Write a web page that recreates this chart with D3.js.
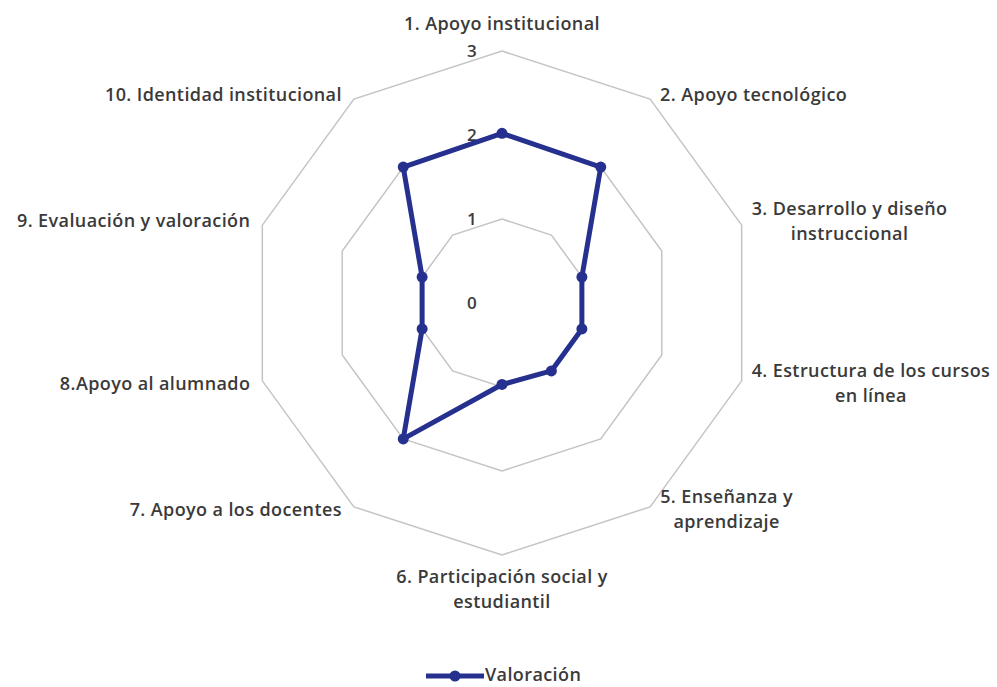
<!DOCTYPE html>
<html>
<head>
<meta charset="utf-8">
<script src="https://cdn.jsdelivr.net/npm/d3@7"></script>
<style>
    body { margin: 0; background: #fff; }
    svg text { font-family: "Open Sans", "Noto Sans", sans-serif; fill: #3a3a3a; font-weight: 600; letter-spacing: 0.4px; }
</style>
</head>
<body>
<svg id="chart" width="997" height="687"></svg>
<script>
const categories = [
    '1. Apoyo institucional',
    '2. Apoyo tecnológico',
    '3. Desarrollo y diseño\ninstruccional',
    '4. Estructura de los cursos\nen línea',
    '5. Enseñanza y\naprendizaje',
    '6. Participación social y\nestudiantil',
    '7. Apoyo a los docentes',
    '8.Apoyo al alumnado',
    '9. Evaluación y valoración',
    '10. Identidad institucional',
];
const valoracion = [2.02, 2, 1, 1, 1, 0.97, 2, 1, 1, 2];
const levels = [0, 1, 2, 3];
const seriesName = 'Valoración';

const svg = d3.select('#chart');
const cx = 502;
const cy = 303;
const color = '#25308f';

const r = d3.scaleLinear().domain([0, 3]).range([0, 252]);
const angle = d3.scaleLinear().domain([0, categories.length]).range([0, 2 * Math.PI]);

function pt(i, v) {
    const a = angle(i);
    return [cx + r(v) * Math.sin(a), cy - r(v) * Math.cos(a)];
}

// grid rings
const ring = d3.line();
levels.filter((l) => l > 0).forEach((l) => {
    svg.append('path')
        .attr('d', ring(categories.map((c, i) => pt(i, l))) + 'Z')
        .attr('fill', 'none')
        .attr('stroke', '#c4c4c4')
        .attr('stroke-width', 1.5);
});

// tick labels
svg.selectAll('text.tick')
    .data(levels)
    .enter()
    .append('text')
    .attr('class', 'tick')
    .attr('x', cx - 30)
    .attr('y', (d) => cy - r(d))
    .attr('dy', '0.35em')
    .attr('text-anchor', 'middle')
    .style('font-size', '17px')
    .text((d) => d);

// series
const pts = valoracion.map((v, i) => pt(i, v));
svg.append('path')
    .attr('d', d3.line()(pts) + 'Z')
    .attr('fill', 'none')
    .attr('stroke', color)
    .attr('stroke-width', 5)
    .attr('stroke-linejoin', 'round');

svg.selectAll('circle.pt')
    .data(pts)
    .enter()
    .append('circle')
    .attr('class', 'pt')
    .attr('cx', (d) => d[0])
    .attr('cy', (d) => d[1])
    .attr('r', 5.5)
    .attr('fill', color);

// category labels
categories.forEach((c, i) => {
    const [vx, vy] = pt(i, 3);
    const a = angle(i);
    const s = Math.sin(a);
    const co = Math.cos(a);
    const lines = c.split('\n');
    const lh = 25;
    const g = svg.append('g');
    const t = g.append('text').style('font-size', '18px').attr('text-anchor', 'middle');
    lines.forEach((ln, k) => {
        t.append('tspan').attr('x', 0).attr('y', k * lh).text(ln);
    });
    const w = d3.max(t.selectAll('tspan').nodes(), (n) => n.getComputedTextLength());
    const blockH = (lines.length - 1) * lh;
    let x = vx;
    if (s > 0.1) x = vx + 10 + w / 2;
    else if (s < -0.1) x = vx - 12 - w / 2;
    let y;
    if (co > 0.9) y = vy - 21;
    else if (co < -0.9) y = vy + 28;
    else y = vy + 6 - blockH / 2 + (co > 0 ? -4 : 3);
    g.attr('transform', `translate(${x},${y})`);
});

// legend
const lx = 426;
const ly = 676;
svg.append('line')
    .attr('x1', lx).attr('x2', lx + 58)
    .attr('y1', ly).attr('y2', ly)
    .attr('stroke', color)
    .attr('stroke-width', 5);
svg.append('circle')
    .attr('cx', lx + 29).attr('cy', ly)
    .attr('r', 5.5)
    .attr('fill', color);
svg.append('text')
    .attr('x', lx + 59)
    .attr('y', ly + 5)
    .style('font-size', '18px')
    .text(seriesName);
</script>
</body>
</html>
